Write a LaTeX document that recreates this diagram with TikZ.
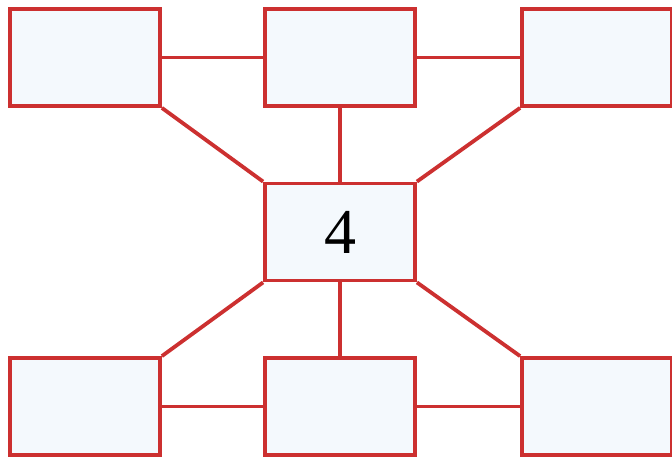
\documentclass[tikz,border=0pt]{standalone}
\usepackage{fontspec}
\setmainfont{Liberation Serif}
\definecolor{boxred}{RGB}{204,48,48}
\definecolor{boxfill}{RGB}{244,249,253}
\begin{document}
\begin{tikzpicture}[x=1pt,y=-1pt,line join=miter,
		cell/.style={draw=boxred,fill=boxfill,line width=3.8pt,minimum width=150pt,minimum height=97pt,inner sep=0pt,font=\fontsize{64}{64}\selectfont},
		link/.style={draw=boxred,line width=3.8pt}]
	\useasboundingbox (0,0) rectangle (672,463);
	% boxes
	\node[cell] (tl) at (85,57.5) {};
	\node[cell] (tm) at (340,57.5) {};
	\node[cell] (tr) at (597,57.5) {};
	\node[cell] (mid) at (340,232) {4};
	\node[cell] (bl) at (85,406.5) {};
	\node[cell] (bm) at (340,406.5) {};
	\node[cell] (br) at (597,406.5) {};
	% links
	\draw[link] (tl.east) -- (tm.west);
	\draw[link] (tm.east) -- (tr.west);
	\draw[link] (bl.east) -- (bm.west);
	\draw[link] (bm.east) -- (br.west);
	\draw[link] (tm.south) -- (mid.north);
	\draw[link] (bm.north) -- (mid.south);
	\draw[link] (tl.south east) -- (mid.north west);
	\draw[link] (tr.south west) -- (mid.north east);
	\draw[link] (bl.north east) -- (mid.south west);
	\draw[link] (br.north west) -- (mid.south east);
\end{tikzpicture}
\end{document}
